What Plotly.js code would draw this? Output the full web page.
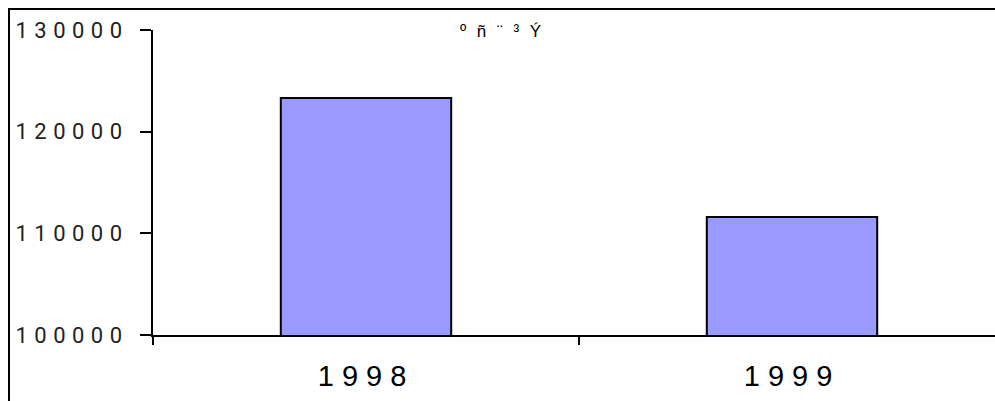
<!DOCTYPE html>
<html>
<head>
<meta charset="utf-8">
<script src="https://cdn.plot.ly/plotly-3.0.1.min.js"></script>
<style>
  html, body { margin: 0; padding: 0; background: #fff; overflow: hidden; }
  #chart { width: 1010px; height: 401px; }
  .xtick text { letter-spacing: 8px; }
  .ytick text { letter-spacing: 6.5px; }
  .gtitle { letter-spacing: 3px; }
</style>
</head>
<body>
<div id="chart"></div>
<script>
const categories = ["1998", "1999"];
const values = [123300, 111600];
const titleText = "º ñ ¨ ³ Ý";
const yTicks = [100000, 110000, 120000, 130000];

const trace = {
  type: "bar",
  x: categories,
  y: values,
  width: 0.4,
  marker: { color: "#9999FF", line: { color: "#000000", width: 2 } },
  hoverinfo: "none"
};

const layout = {
  width: 1010,
  height: 401,
  margin: { l: 153, r: 5, t: 30, b: 66 },
  paper_bgcolor: "#ffffff",
  plot_bgcolor: "#ffffff",
  showlegend: false,
  title: {
    text: titleText,
    x: 502 / 1010, xanchor: "center", xref: "container",
    y: 1 - 31 / 401, yanchor: "middle", yref: "container",
    font: { family: "Liberation Sans, Arial, sans-serif", size: 17, color: "#000" }
  },
  xaxis: {
    type: "category",
    range: [-0.5, 1.5],
    showline: true, linecolor: "#000", linewidth: 2,
    ticks: "outside", tickson: "boundaries", ticklen: 8, tickwidth: 2, tickcolor: "#000",
    showgrid: false, zeroline: false,
    ticklabelstandoff: 14,
    tickfont: { family: "Liberation Sans, Arial, sans-serif", size: 29, color: "#000" }
  },
  yaxis: {
    range: [100000, 130000],
    tickmode: "array", tickvals: yTicks, ticktext: yTicks.map(String),
    showline: true, linecolor: "#000", linewidth: 2,
    ticks: "outside", ticklen: 11, tickwidth: 2, tickcolor: "#000",
    showgrid: false, zeroline: false,
    ticklabelstandoff: 7,
    tickfont: { family: "Roboto, Liberation Sans, sans-serif", size: 22, color: "#222" }
  },
  shapes: [{
    type: "rect", xref: "paper", yref: "paper",
    x0: (9 - 153) / 852, x1: 2, y0: -1, y1: (335 - 9) / 305,
    line: { color: "#000", width: 2 }, fillcolor: "rgba(0,0,0,0)", layer: "below"
  }]
};

Plotly.newPlot("chart", [trace], layout, { staticPlot: true, displayModeBar: false });
</script>
</body>
</html>
